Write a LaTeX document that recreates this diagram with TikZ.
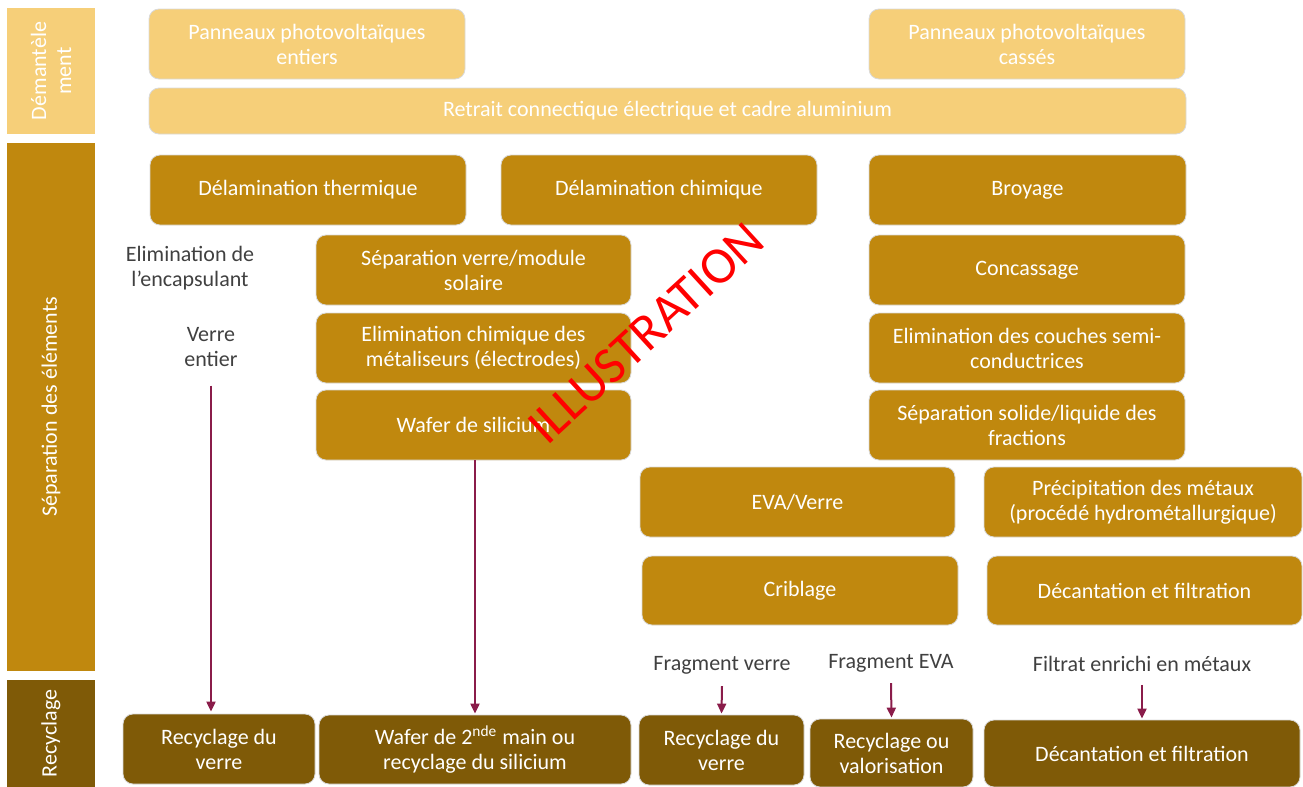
\documentclass[tikz,border=0pt]{standalone}
\usepackage{fontspec}
\setmainfont{Carlito}
\usetikzlibrary{arrows.meta}

\definecolor{clair}{HTML}{F6CF79}
\definecolor{ocre}{HTML}{C0880E}
\definecolor{brun}{HTML}{7F5A07}
\definecolor{fleche}{HTML}{8A1C4A}
\definecolor{gristexte}{HTML}{404040}

\tikzset{
  sz/.style 2 args={minimum width=#1*0.5pt, minimum height=#2*0.5pt},
  bloc/.style={rounded corners=5pt, draw=black!15, line width=0.4pt, text=white, align=center, inner sep=0pt, font=\fontsize{11}{12.5}\selectfont},
  bclair/.style={bloc, fill=clair},
  bocre/.style={bloc, fill=ocre},
  bbrun/.style={bloc, fill=brun},
  bande/.style={draw=none, inner sep=0pt, text=white, align=center, font=\fontsize{11}{12.5}\selectfont},
  libre/.style={text=gristexte, align=center, font=\fontsize{11}{12.5}\selectfont},
  fl/.style={draw=fleche, line width=1pt, -{Triangle[width=4.5pt,length=5pt]}}
}

\begin{document}
\begin{tikzpicture}[x=0.5pt, y=-0.5pt]
			\useasboundingbox (0,0) rectangle (1303,787);
			% bandes de gauche
			\node[bande, fill=clair, sz={88}{126}] (bdem) at (51,71) {};
			\node[bande, rotate=90] at (bdem) {Démantèle\\ment};
			\node[bande, fill=ocre, sz={88}{528}] (bsep) at (51,407) {};
			\node[bande, rotate=90] at (bsep) {Séparation des éléments};
			\node[bande, fill=brun, sz={88}{107}] (brec) at (51,733.5) {};
			\node[bande, rotate=90] at (brec) {Recyclage};
			% demantelement
			\node[bclair, sz={316}{70}] (entiers) at (307,44) {Panneaux photovoltaïques\\entiers};
			\node[bclair, sz={316}{70}] (casses) at (1027,44) {Panneaux photovoltaïques\\cassés};
			\node[bclair, sz={1037}{46}] (retrait) at (667.5,111) {Retrait connectique électrique et cadre aluminium};
			% separation des elements
			\node[bocre, sz={316}{70}] (delth) at (308,190) {Délamination thermique};
			\node[bocre, sz={316}{70}] (delch) at (659,190) {Délamination chimique};
			\node[bocre, sz={317}{70}] (broyage) at (1027.5,190) {Broyage};
			\node[bocre, sz={315}{70}] (sepverre) at (473.5,270) {Séparation verre/module\\solaire};
			\node[bocre, sz={315}{70}] (elimch) at (473.5,348) {Elimination chimique des\\métaliseurs (électrodes)};
			\node[bocre, sz={315}{70}] (wafer) at (473.5,425) {Wafer de silicium};
			\node[bocre, sz={316}{70}] (concass) at (1027,270) {Concassage};
			\node[bocre, sz={316}{70}] (couches) at (1027,348) {Elimination des couches semi-\\conductrices};
			\node[bocre, sz={316}{70}] (solliq) at (1027,425) {Séparation solide/liquide des\\fractions};
			\node[bocre, sz={315}{70}] (eva) at (797.5,502) {EVA/Verre};
			\node[bocre, sz={318}{70}] (precip) at (1143,502) {Précipitation des métaux\\(procédé hydrométallurgique)};
			\node[bocre, sz={316}{69}] (criblage) at (800,590.5) {Criblage};
			\node[bocre, sz={315}{69}] (decant) at (1144.5,590.5) {Décantation et filtration};
			% textes libres
			\node[libre] (encaps) at (190,268) {Elimination de\\l’encapsulant};
			\node[libre] (verre) at (211,347) {Verre\\entier};
			\node[libre] (fragv) at (722,665) {Fragment verre};
			\node[libre] (frage) at (891,663) {Fragment EVA};
			\node[libre] (filtrat) at (1142,664) {Filtrat enrichi en métaux};
			% recyclage
			\node[bbrun, sz={192}{70}] (recv1) at (219,749) {Recyclage du\\verre};
			\node[bbrun, sz={312}{69}] (wafer2) at (475,749.5) {Wafer de 2\textsuperscript{nde} main ou\\recyclage du silicium};
			\node[bbrun, sz={165}{70}] (recv2) at (721.5,750) {Recyclage du\\verre};
			\node[bbrun, sz={163}{68}] (valor) at (891.5,753) {Recyclage ou\\valorisation};
			\node[bbrun, sz={316}{67}] (decant2) at (1142,753.5) {Décantation et filtration};
			% fleches
			\draw[fl] ([yshift=-12*0.5pt]verre.south) -- ([yshift=1pt]verre.south |- recv1.north);
			\draw[fl] (wafer.south -| wafer2.north) -- ([yshift=0.5pt]wafer2.north);
			\draw[fl] ([yshift=-5*0.5pt]fragv.south) -- ([yshift=0.5pt]recv2.north);
			\draw[fl] ([yshift=-4*0.5pt]frage.south) -- ([yshift=0.5pt]valor.north);
			\draw[fl] ([yshift=-6*0.5pt]filtrat.south) -- ([yshift=0.5pt]decant2.north);
			% filigrane
			\node[text=red, rotate=42.5, font=\fontsize{26}{26}\selectfont] (filig) at (646,333) {ILLUSTRATION};
\end{tikzpicture}
\end{document}
